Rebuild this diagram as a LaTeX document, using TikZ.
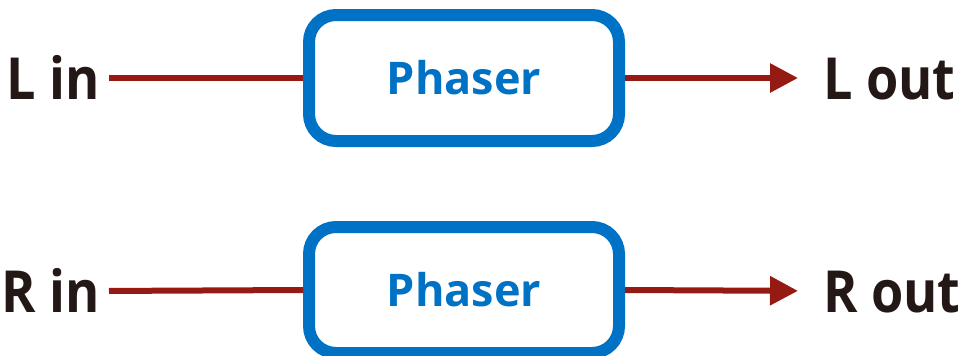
\documentclass[tikz,border=0pt]{standalone}
\usepackage{fontspec}
\setmainfont{Open Sans}
\newfontfamily\labelfont[FakeStretch=0.9]{Open Sans}
\usetikzlibrary{arrows.meta,positioning}
\definecolor{fxblue}{RGB}{0,114,198}
\definecolor{sigred}{RGB}{150,26,20}
\definecolor{labelink}{RGB}{35,24,21}
\tikzset{
  fxbox/.style={
    draw=fxblue,
    line width=12pt,
    rounded corners=27pt,
    minimum width=310pt,
    minimum height=126pt,
    text=fxblue,
    font=\fontsize{45}{45}\selectfont\bfseries
  },
  iolabel/.style={
    inner sep=0pt,
    text height=42pt,
    text depth=0pt,
    text=labelink,
    font=\labelfont\fontsize{58}{58}\selectfont\bfseries
  },
  signal/.style={
    draw=sigred,
    line width=6pt
  },
  every picture/.style={x=1pt,y=-1pt}
}
\begin{document}
\begin{tikzpicture}
  \useasboundingbox (0,0) rectangle (961,356);
  % left channel
  \node[fxbox] (phl) at (464,78) {Phaser};
  \node[iolabel, anchor=base east] (lin) at (100,99) {L in};
  \node[iolabel, anchor=base west] (lout) at (823,99) {L out};
  \draw[signal, shorten <=9pt] (lin.east) -- (phl.west);
  \draw[signal, shorten >=25pt, -{Triangle[length=28pt,width=28pt]}] (phl.east) -- (lout.west);
  % right channel
  \node[fxbox] (phr) at (464,290) {Phaser};
  \node[iolabel, anchor=base east] (rin) at (100,312) {R in};
  \node[iolabel, anchor=base west] (rout) at (823,312) {R out};
  \draw[signal, shorten <=9pt] (rin.east) -- (phr.west);
  \draw[signal, shorten >=25pt, -{Triangle[length=28pt,width=28pt]}] (phr.east) -- (rout.west);
\end{tikzpicture}
\end{document}
